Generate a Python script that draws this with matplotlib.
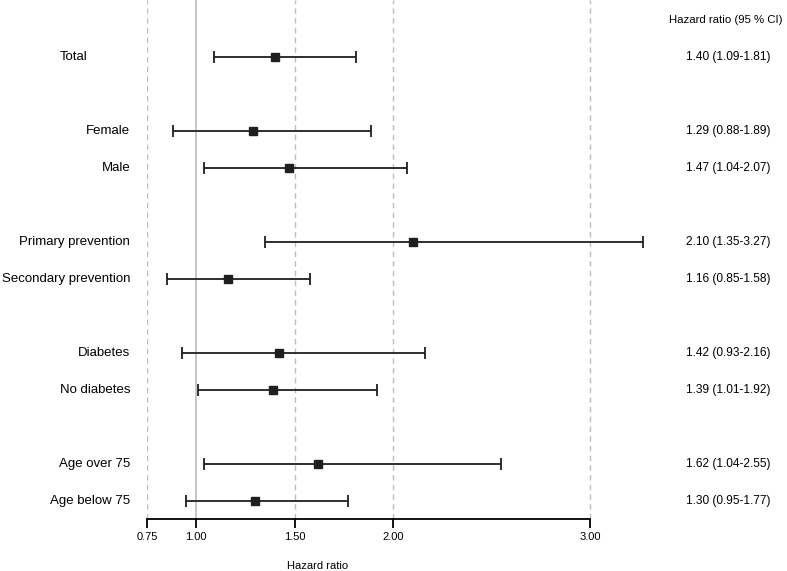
import numpy as np
import matplotlib
matplotlib.use('Agg')
import matplotlib.pyplot as plt

plt.rcParams['font.family'] = ['Liberation Sans', 'DejaVu Sans']

#==============================================================================
# data
#==============================================================================

labels = ['Total',
          'Female', 'Male',
          'Primary prevention', 'Secondary prevention',
          'Diabetes', 'No diabetes',
          'Age over 75', 'Age below 75']
hr    = [1.40, 1.29, 1.47, 2.10, 1.16, 1.42, 1.39, 1.62, 1.30]
lower = [1.09, 0.88, 1.04, 1.35, 0.85, 0.93, 1.01, 1.04, 0.95]
upper = [1.81, 1.89, 2.07, 3.27, 1.58, 2.16, 1.92, 2.55, 1.77]
group_sizes = [1, 2, 2, 2, 2]

xticks = [0.75, 1.00, 1.50, 2.00, 3.00]
dashed_refs = [0.75, 1.50, 2.00, 3.00]

#==============================================================================
# style
#==============================================================================

bar_color  = '#1f1f1f'
grid_color = '#bdbdbd'

# row positions: one blank row between groups
ypos = []
r = 0
for g in group_sizes:
    for _ in range(g):
        ypos.append(r)
        r += 1
    r += 1
ypos = np.array(ypos)

hr = np.array(hr)
lower = np.array(lower)
upper = np.array(upper)

#==============================================================================
# plot
#==============================================================================

fig = plt.figure(figsize=(7.87, 5.71), dpi=100)
ax = fig.add_axes([147/787, 1 - 519/571, (659 - 147)/787, 519/571])

for v in dashed_refs:
    ax.axvline(v, color=grid_color, lw=1.0, ls=(0, (4, 3)), zorder=1)
ax.axvline(1.0, color=grid_color, lw=1.2, zorder=1)

ax.errorbar(hr, ypos, xerr=[hr - lower, upper - hr], fmt='s',
            color=bar_color, ecolor=bar_color, elinewidth=1.3,
            capsize=4, capthick=1.3, markersize=5.5, zorder=3)

ax.set_xlim(0.75, 3.35)
ax.set_ylim(12.486, -1.54)

for s in ['top', 'right', 'left']:
    ax.spines[s].set_visible(False)
ax.spines['bottom'].set_bounds(0.75, 3.0)
ax.spines['bottom'].set_linewidth(1.3)
ax.set_yticks([])
ax.set_xticks(xticks)
ax.set_xticklabels(['%.2f' % t for t in xticks], fontsize=8)
ax.tick_params(axis='x', length=6.5, width=1.3, pad=2.5)

# row labels (Total sits a bit to the left)
for i, (lab, y) in enumerate(zip(labels, ypos)):
    xl = 0.447 if i == 0 else 0.665
    ax.text(xl, y, lab, ha='right', va='center', fontsize=9.5, clip_on=False)

# estimates column
ax.text(3.69, -1.0, 'Hazard ratio (95 % CI)', ha='center', va='center',
        fontsize=8.2, clip_on=False)
for h, lo, up, y in zip(hr, lower, upper, ypos):
    ax.text(3.70, y, '%.2f (%.2f-%.2f)' % (h, lo, up), ha='center',
            va='center', fontsize=8.6, clip_on=False)

fig.text(318/787, 1 - 566/571, 'Hazard ratio', ha='center', va='center',
         fontsize=8)

fig.savefig('out.png', dpi=100)
